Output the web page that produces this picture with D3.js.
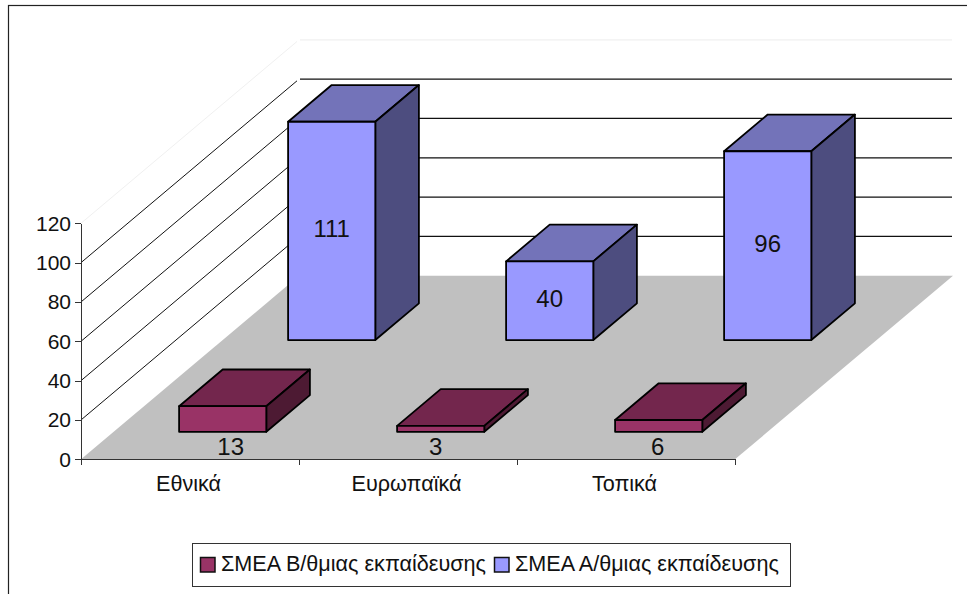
<!DOCTYPE html>
<meta charset="utf-8">
<title>ΣΜΕΑ</title>
<style type="text/css">
	html, body { margin: 0; padding: 0; background: #fff; overflow: hidden; }
	text { font-family: "Liberation Sans", Arial, sans-serif; font-size: 21.6px; fill: #111; }
	.axis line, .axis path { stroke: #333; stroke-width: 1; shape-rendering: crispEdges; }
	.axis text { font-family: "Liberation Sans", Arial, sans-serif; font-size: 21px; fill: #111; }
	.dataLabel { font-size: 24px; }
	.face { stroke: #000; stroke-width: 1.8; stroke-linejoin: round; }
</style>
<body>
<script src="https://cdn.jsdelivr.net/npm/d3@7"></script>
<script>

var categories = ["Εθνικά", "Ευρωπαϊκά", "Τοπικά"];
var seriesNames = ["ΣΜΕΑ Β/θμιας εκπαίδευσης", "ΣΜΕΑ Α/θμιας εκπαίδευσης"];
var secondaryValues = [13, 3, 6];
var primaryValues = [111, 40, 96];
var yTicks = [0, 20, 40, 60, 80, 100, 120];

var width = 967, height = 594;

var svg = d3.select("body").append("svg")
	.attr("width", width)
	.attr("height", height);

// Scales: x along the floor, y up the wall, depth runs from front to back
var x = d3.scaleBand().domain(categories).range([81, 735]);
var xBar = d3.scaleBand().domain(categories).range([81, 735]).paddingInner(0.6).paddingOuter(0.3);
var y = d3.scaleLinear().domain([0, 120]).range([459.3, 223.3]);
var slot = d3.scaleBand().domain(seriesNames).range([0, 1]).paddingInner(0.6).paddingOuter(0.3);
var depthX = d3.scaleLinear().domain([0, 1]).range([0, 218]);
var depthY = d3.scaleLinear().domain([0, 1]).range([0, 183.5]);

// frame runs off the right and bottom of the picture
svg.append("rect")
	.attr("x", 8.5).attr("y", 5.5)
	.attr("width", width).attr("height", height)
	.attr("fill", "#fff")
	.attr("stroke", "#222")
	.attr("stroke-width", 1.2);

// Floor
var floorLeft = x.range()[0], floorRight = x.range()[1];
svg.append("polygon")
	.attr("fill", "#c0c0c0")
	.attr("points", [
		[floorLeft, y(0)],
		[floorRight, y(0)],
		[floorRight + depthX(1), y(0) - depthY(1)],
		[floorLeft + depthX(1), y(0) - depthY(1)]
	].join(" "));

// Gridlines on the side wall and the back wall
yTicks.filter(function(d) { return d > 0; }).forEach(function(d) {
	var col = d === 120 ? "#f0f0f0" : "#111";
	svg.append("line")
		.attr("x1", floorLeft).attr("y1", y(d))
		.attr("x2", floorLeft + depthX(1) - 2).attr("y2", y(d) - depthY(1) * (depthX(1) - 2) / depthX(1))
		.attr("stroke", col).attr("stroke-width", 1);
	svg.append("line")
		.attr("x1", floorLeft + depthX(1) + 1).attr("y1", y(d) - depthY(1))
		.attr("x2", floorRight + depthX(1) - 1).attr("y2", y(d) - depthY(1))
		.attr("stroke", col).attr("stroke-width", 1.2);
});

// Axes
svg.append("g")
	.attr("class", "axis")
	.attr("transform", "translate(" + floorLeft + ",0)")
	.call(d3.axisLeft(y).tickValues(yTicks).tickSize(6).tickSizeOuter(0).tickPadding(4));

var xEdges = d3.scaleLinear().domain([0, categories.length]).range([floorLeft, floorRight]);
svg.append("g")
	.attr("class", "axis")
	.attr("transform", "translate(0," + y(0) + ")")
	.call(d3.axisBottom(xEdges).ticks(categories.length).tickSize(6).tickSizeOuter(0).tickFormat(""));

svg.selectAll(".catLabel")
	.data(categories)
	.enter()
	.append("text")
	.attr("class", "catLabel")
	.attr("x", function(d) { return x(d) + x.bandwidth() / 2 - 1.5; })
	.attr("y", 491)
	.style("text-anchor", "middle")
	.text(function(d) { return d; });

// One bar = front, top and side faces
function drawBars(name, values, colors) {
	var d0 = slot(name), d1 = d0 + slot.bandwidth();
	values.forEach(function(v, i) {
		var left = xBar(categories[i]), right = left + xBar.bandwidth();
		function pt(px, d, val) {
			return [px + depthX(d), y(val) - depthY(d)];
		}
		var g = svg.append("g");
		g.append("polygon").attr("class", "face").attr("fill", colors.top)
			.attr("points", [pt(left, d0, v), pt(right, d0, v), pt(right, d1, v), pt(left, d1, v)].join(" "));
		g.append("polygon").attr("class", "face").attr("fill", colors.side)
			.attr("points", [pt(right, d0, 0), pt(right, d1, 0), pt(right, d1, v), pt(right, d0, v)].join(" "));
		g.append("polygon").attr("class", "face").attr("fill", colors.front)
			.attr("points", [pt(left, d0, 0), pt(right, d0, 0), pt(right, d0, v), pt(left, d0, v)].join(" "));
	});
}

var blue = {front: "#9999ff", top: "#7373b9", side: "#4d4d7f"};
var maroon = {front: "#993366", top: "#73264d", side: "#4d1a33"};

drawBars(seriesNames[1], primaryValues, blue);
drawBars(seriesNames[0], secondaryValues, maroon);

// Data labels: tall bars get theirs on the front face, flat bars under it
var backDepth = slot(seriesNames[1]);
primaryValues.forEach(function(v, i) {
	svg.append("text")
		.attr("class", "dataLabel")
		.attr("x", xBar(categories[i]) + xBar.bandwidth() / 2 + depthX(backDepth))
		.attr("y", (y(v) + y(0)) / 2 - depthY(backDepth) + 6.5)
		.style("text-anchor", "middle")
		.text(v);
});
var flatShift = [8, -5, -1];
secondaryValues.forEach(function(v, i) {
	svg.append("text")
		.attr("class", "dataLabel")
		.attr("x", xBar(categories[i]) + xBar.bandwidth() / 2 + depthX(slot(seriesNames[0])) + flatShift[i])
		.attr("y", 455)
		.style("text-anchor", "middle")
		.text(v);
});

// Legend
var legend = svg.append("g");
legend.append("rect")
	.attr("x", 192.5).attr("y", 543.5)
	.attr("width", 598).attr("height", 43)
	.attr("fill", "#fff")
	.attr("stroke", "#333")
	.attr("stroke-width", 1);
var legendX = [200.5, 494.5];
var legendFill = [maroon.front, blue.front];
seriesNames.forEach(function(name, i) {
	legend.append("rect")
		.attr("x", legendX[i]).attr("y", 557.5)
		.attr("width", 14.5).attr("height", 14.5)
		.attr("fill", legendFill[i])
		.attr("stroke", "#111")
		.attr("stroke-width", 1.5);
	legend.append("text")
		.attr("x", legendX[i] + 20.5)
		.attr("y", 571)
		.text(name);
});

</script>
</body>
